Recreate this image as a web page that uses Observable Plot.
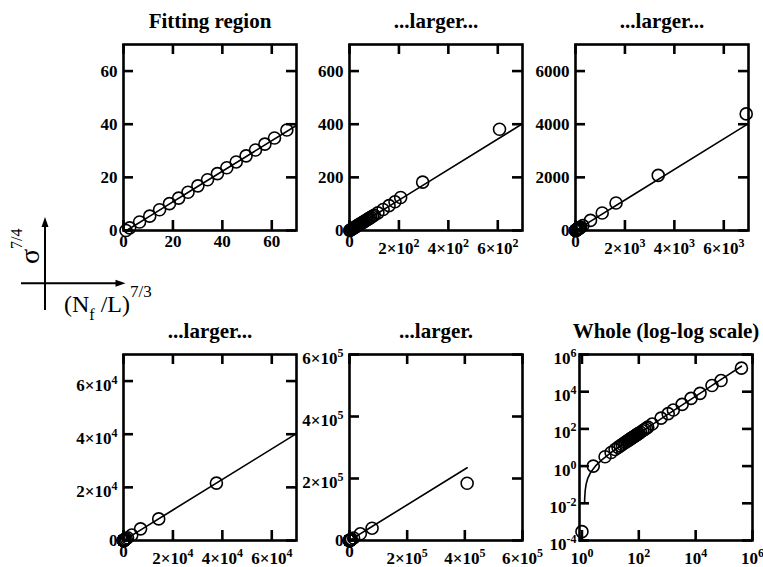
<!DOCTYPE html>
<html><head><meta charset="utf-8">
<script src="https://cdn.jsdelivr.net/npm/d3@7"></script>
<script src="https://cdn.jsdelivr.net/npm/@observablehq/plot@0.6"></script>
<style>
body{margin:0;background:#fff;}
#chart{position:relative;width:763px;height:567px;overflow:hidden;background:#fff;}
#chart svg{position:absolute;}
</style></head><body><div id="chart"></div>
<script>
// ---- data: x = (N_f/L)^(7/3), y = sigma^(7/4)
const pointX = [1.0, 2.5, 6.5, 10.6, 14.6, 18.6, 22.3, 26.1, 30.1, 34.0, 38.0, 41.8, 45.6, 49.6, 53.4, 57.2, 61.1, 66.1, 70.5, 75, 80, 86, 93, 100, 115, 136, 160, 184, 207, 296, 607, 1080, 1640, 3347, 6907, 14250, 37600, 78300, 408000];
const pointY = [0.0003, 1.0, 3.2, 5.4, 7.8, 10.1, 12.2, 14.4, 16.8, 19.1, 21.4, 23.6, 25.8, 28.1, 30.3, 32.5, 34.8, 37.8, 40.3, 42.9, 45.8, 49.3, 53.4, 57.5, 66.5, 79, 93.5, 108, 124, 182, 381, 660, 1036, 2074, 4388, 8130, 21600, 39700, 184800];
// fitted straight line (read along its drawn path)
const fitX = [1.235, 1.25, 1.3, 1.4, 1.6, 2, 3, 5, 10, 30, 70, 200, 700, 2000, 7000, 20000, 70000, 408000];
const fitY = [0.0101, 0.019, 0.0475, 0.105, 0.22, 0.45, 1.025, 2.175, 5.05, 16.55, 39.55, 114.3, 401.8, 1149, 4024, 11499, 40249, 234599];

const titles = ["Fitting region", "...larger...", "...larger...", "...larger...", "...larger.", "Whole (log-log scale)"];
const xDomains = [[0, 70], [0, 700], [0, 7000], [0, 70000], [0, 600000], [0.82, 1e6]];
const yDomains = [[0, 70], [0, 700], [0, 7000], [0, 70000], [0, 600000], [1e-4, 1e6]];
const xTicks = [[0, 20, 40, 60], [0, 200, 400, 600], [0, 2000, 4000, 6000], [0, 20000, 40000, 60000], [0, 200000, 400000, 600000], [1, 100, 1e4, 1e6]];
const xTickLabels = [["0", "20", "40", "60"], ["0", "2×10^2", "4×10^2", "6×10^2"], ["0", "2×10^3", "4×10^3", "6×10^3"], ["0", "2×10^4", "4×10^4", "6×10^4"], ["0", "2×10^5", "4×10^5", "6×10^5"], ["10^0", "10^2", "10^4", "10^6"]];
const yTicks = [[0, 20, 40, 60], [0, 200, 400, 600], [0, 2000, 4000, 6000], [0, 20000, 40000, 60000], [0, 200000, 400000, 600000], [1e-4, 1e-2, 1, 100, 1e4, 1e6]];
const yTickLabels = [["0", "20", "40", "60"], ["0", "200", "400", "600"], ["0", "2000", "4000", "6000"], ["0", "2×10^4", "4×10^4", "6×10^4"], ["0", "2×10^5", "4×10^5", "6×10^5"], ["10^-4", "10^-2", "10^0", "10^2", "10^4", "10^6"]];
const logPanel = [false, false, false, false, false, true];

// ---- layout
const frameLeft = [123, 349, 574.5, 123, 349, 578.5];
const frameTop = [43.5, 43.5, 43.5, 354, 354, 354];
const FW = 173, FH = 186, ML = 70, MR = 30, MT = 45, MB = 40, TICK = 10;
const FONT = "'Liberation Serif', 'Times New Roman', serif";

const points = pointX.map((x, i) => ({x, y: pointY[i]}));
const fit = fitX.map((x, i) => ({x, y: fitY[i]}));
const chart = document.getElementById("chart");

function styleLabels(svg) {
  d3.select(svg).selectAll("g[aria-label='x-axis tick label'], g[aria-label='y-axis tick label']")
    .style("font-family", FONT).style("font-size", "17px").style("font-weight", "bold").style("font-variant", "normal");
  d3.select(svg).selectAll("g[aria-label='x-axis tick label'] text, g[aria-label='y-axis tick label'] text").each(function () {
    const t = this.textContent;
    if (!t.includes("^")) return;
    const isX = this.parentNode.getAttribute("aria-label").startsWith("x");
    const [base, exp] = t.split("^");
    const sel = d3.select(this);
    sel.text(null);
    sel.append("tspan").attr("dy", isX ? 7 : 4).text(base);
    sel.append("tspan").style("font-size", "12px").attr("dy", -7).text(exp);
  });
}

for (let p = 0; p < 6; p++) {
  const [x0, x1] = xDomains[p], [y0, y1] = yDomains[p];
  const xl = new Map(xTicks[p].map((t, i) => [t, xTickLabels[p][i]]));
  const yl = new Map(yTicks[p].map((t, i) => [t, yTickLabels[p][i]]));
  const type = logPanel[p] ? "log" : "linear";
  const tk = {stroke: "black", strokeWidth: 2.6};
  const svg = Plot.plot({
    width: ML + FW + MR, height: MT + FH + MB,
    marginLeft: ML, marginRight: MR, marginTop: MT, marginBottom: MB,
    x: {type, domain: xDomains[p], label: null},
    y: {type, domain: yDomains[p], label: null},
    style: {background: "transparent", overflow: "visible", fontFamily: FONT, fontSize: "17px", fontWeight: "bold", color: "black"},
    marks: [
      Plot.line(fit, {x: "x", y: "y", stroke: "black", strokeWidth: 1.6, clip: true}),
      Plot.dot(points, {x: "x", y: "y", r: 6, stroke: "black", strokeWidth: 1.6, fill: "none",
        filter: d => d.x >= x0 && d.x <= x1 && d.y >= y0 && d.y <= y1}),
      // inward ticks on all four sides
      Plot.tickX(xTicks[p], {x: d => d, ...tk, insetTop: FH - TICK}),
      Plot.tickX(xTicks[p], {x: d => d, ...tk, insetBottom: FH - TICK}),
      Plot.tickY(yTicks[p], {y: d => d, ...tk, insetRight: FW - TICK}),
      Plot.tickY(yTicks[p], {y: d => d, ...tk, insetLeft: FW - TICK}),
      Plot.frame({stroke: "black", strokeWidth: 2.6}),
      // labels
      Plot.axisX(xTicks[p], {anchor: "bottom", tickSize: 0, tickPadding: 4, label: null, fontSize: 17, fontWeight: "bold", fill: "black", tickFormat: d => xl.get(d)}),
      Plot.axisY(yTicks[p], {anchor: "left", tickSize: 0, tickPadding: logPanel[p] ? 3 : 6, label: null, fontSize: 17, fontWeight: "bold", fill: "black", tickFormat: d => yl.get(d)}),
      Plot.text([titles[p]], {frameAnchor: "top", lineAnchor: "bottom", dy: -17, fontSize: 21, fontWeight: "bold", fill: "black"})
    ]
  });
  styleLabels(svg);
  svg.style.left = (frameLeft[p] - ML) + "px";
  svg.style.top = (frameTop[p] - MT) + "px";
  chart.appendChild(svg);
}

// ---- schematic axes legend (sigma^{7/4} vs (N_f/L)^{7/3})
const s = d3.select(chart).append("svg").attr("width", 763).attr("height", 567).style("left", "0px").style("top", "0px");
s.append("line").attr("x1", 45).attr("y1", 310).attr("x2", 45).attr("y2", 224).attr("stroke", "black").attr("stroke-width", 2);
s.append("path").attr("d", "M45,217L41.5,227L48.5,227Z").attr("fill", "black");
s.append("line").attr("x1", 21).attr("y1", 283.3).attr("x2", 118).attr("y2", 283.3).attr("stroke", "black").attr("stroke-width", 2);
s.append("path").attr("d", "M125.5,283.3L115.5,279.8L115.5,286.8Z").attr("fill", "black");
const sig = s.append("text").attr("transform", "translate(39,264) rotate(-90)").attr("font-family", FONT).attr("font-size", 28);
sig.append("tspan").text("σ");
sig.append("tspan").attr("font-size", 16).attr("dy", -17).text("7/4");
const nf = s.append("text").attr("x", 64).attr("y", 312).attr("font-family", FONT).attr("font-size", 24);
nf.append("tspan").text("(N");
nf.append("tspan").attr("font-size", 16).attr("dy", 8).text("f");
nf.append("tspan").attr("dy", -8).text(" /L)");
nf.append("tspan").attr("font-size", 17).attr("dy", -15).text("7/3");
</script></body></html>
